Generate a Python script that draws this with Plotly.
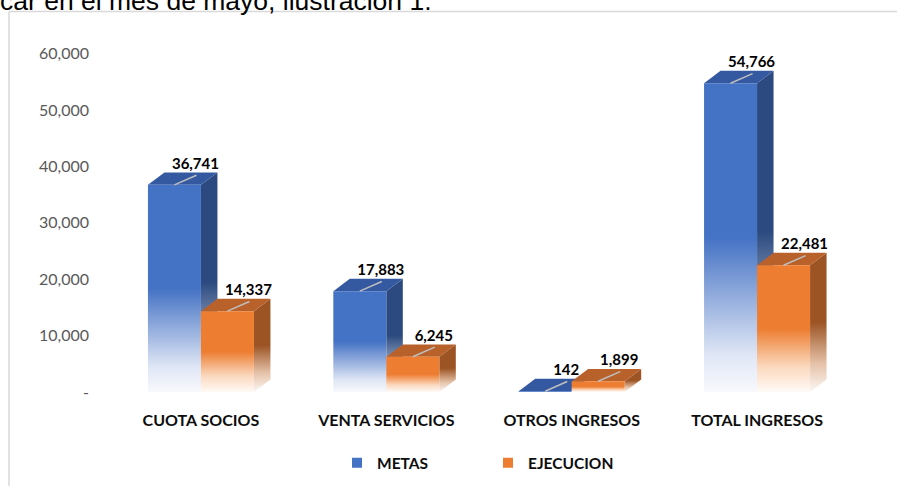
import plotly.graph_objects as go

# ---- data ----
categories = ["CUOTA SOCIOS", "VENTA SERVICIOS", "OTROS INGRESOS", "TOTAL INGRESOS"]
metas = [36741, 17883, 142, 54766]
ejecucion = [14337, 6245, 1899, 22481]
series_names = ["METAS", "EJECUCION"]
ytick_vals = [0, 10000, 20000, 30000, 40000, 50000, 60000]
ytick_text = ["-", "10,000", "20,000", "30,000", "40,000", "50,000", "60,000"]

# ---- geometry / style ----
W, H = 897, 492
ML, MR, MT, MB = 99, 38, 35, 91
XR = [-0.55, 3.55]
px_x = (W - ML - MR) / (XR[1] - XR[0])
k_y = 0.00578
YR = [0, (H - MT - MB) / k_y]
bw = 53 / px_x          # bar width
dx = 16.5 / px_x        # depth offset x
dy = 12.7 / k_y         # depth offset y

styles = {
    "METAS": dict(front="#4472C4", top="#3459A0", side="#2C4A80",
                  fscale=[[0, "#f8f9fd"], [0.12, "#dfe6f5"], [0.5, "#4472C4"], [1, "#4472C4"]],
                  sscale=[[0, "#f6f7fa"], [0.12, "#d5dbe8"], [0.5, "#2C4A80"], [1, "#2C4A80"]]),
    "EJECUCION": dict(front="#ED7D31", top="#B8612A", side="#9C5424",
                      fscale=[[0, "#fffaf6"], [0.2, "#fbd8be"], [0.5, "#ED7D31"], [1, "#ED7D31"]],
                      sscale=[[0, "#fbf7f4"], [0.2, "#e6c3aa"], [0.5, "#9C5424"], [1, "#9C5424"]]),
}

FONT = "Lato"
fig = go.Figure()

def poly(xs, ys, **kw):
    fig.add_trace(go.Scatter(x=xs + [xs[0]], y=ys + [ys[0]], mode="lines", fill="toself",
                             line=dict(width=0), hoverinfo="skip", showlegend=False, **kw))

for si, (name, vals) in enumerate(zip(series_names, [metas, ejecucion])):
    st = styles[name]
    for ci, h in enumerate(vals):
        x0 = ci - bw + si * bw
        x1 = x0 + bw
        # side
        poly([x1, x1 + dx, x1 + dx, x1], [0, dy, h + dy, h],
             fillgradient=dict(type="vertical", colorscale=st["sscale"], start=0, stop=h + dy))
        # top
        poly([x0, x1, x1 + dx, x0 + dx], [h, h, h + dy, h + dy], fillcolor=st["top"])
        # front
        poly([x0, x1, x1, x0], [0, 0, h, h],
             fillgradient=dict(type="vertical", colorscale=st["fscale"], start=0, stop=h))

# leader lines and data labels
for si, vals in enumerate([metas, ejecucion]):
    for ci, h in enumerate(vals):
        xc = ci - bw / 2 + si * bw
        fig.add_trace(go.Scatter(x=[xc, xc + 22 / px_x], y=[h, h + 0.78 * dy], mode="lines",
                                 line=dict(color="#BFBFBF", width=1.5), hoverinfo="skip",
                                 showlegend=False))
        fig.add_trace(go.Scatter(x=[xc + 21 / px_x], y=[h + dy], mode="text",
                                 text=[f"{h:,}"], textposition="top center",
                                 textfont=dict(family=FONT, size=15, color="#000000", weight="bold"),
                                 hoverinfo="skip", showlegend=False, cliponaxis=False))

# legend entries
for name in series_names:
    fig.add_trace(go.Scatter(x=[None], y=[None], mode="markers", name=name,
                             marker=dict(symbol="square", size=10, color=styles[name]["front"])))

fig.update_layout(
    width=W, height=H, autosize=False,
    margin=dict(l=ML, r=MR, t=MT, b=MB),
    paper_bgcolor="white", plot_bgcolor="white",
    hovermode=False,
    xaxis=dict(range=XR, tickvals=list(range(len(categories))), ticktext=categories,
               showgrid=False, zeroline=False, showline=False, ticks="",
               tickfont=dict(family=FONT, size=16, color="#0d0d0d", weight="bold"),
               ticklabelstandoff=17, fixedrange=True),
    yaxis=dict(range=YR, tickvals=ytick_vals, ticktext=ytick_text,
               showgrid=False, zeroline=False, showline=False, ticks="",
               tickfont=dict(family=FONT, size=16, color="#595959"),
               ticklabelstandoff=9, fixedrange=True),
    legend=dict(orientation="h", x=(337 - ML) / (W - ML - MR), xanchor="left",
                y=(401 - 474) / (H - MT - MB), yanchor="middle",
                entrywidth=106, entrywidthmode="pixels",
                font=dict(family=FONT, size=15.5, color="#0d0d0d", weight="bold")),
    annotations=[dict(text="car en el mes de mayo, ilustración 1.", xref="paper", yref="paper",
                      x=(-2 - ML) / (W - ML - MR), y=1 + (MT - 18) / (H - MT - MB),
                      xanchor="left", yanchor="bottom", showarrow=False,
                      font=dict(family="Liberation Sans", size=26.5, color="#000000"))],
    shapes=[
        dict(type="line", xref="paper", yref="paper",
             x0=(9 - ML) / (W - ML - MR), x1=(W + 5 - ML) / (W - ML - MR),
             y0=1 + (MT - 11) / (H - MT - MB), y1=1 + (MT - 11) / (H - MT - MB),
             line=dict(color="#D9D9D9", width=1.5)),
        dict(type="line", xref="paper", yref="paper",
             x0=(9 - ML) / (W - ML - MR), x1=(9 - ML) / (W - ML - MR),
             y0=1 + (MT - 11) / (H - MT - MB), y1=(401 - H - 5) / (H - MT - MB),
             line=dict(color="#D9D9D9", width=1.5)),
    ],
)

fig.write_html("out.html", config={"displayModeBar": False, "responsive": False},
               post_script="document.body.style.margin='0px';")
